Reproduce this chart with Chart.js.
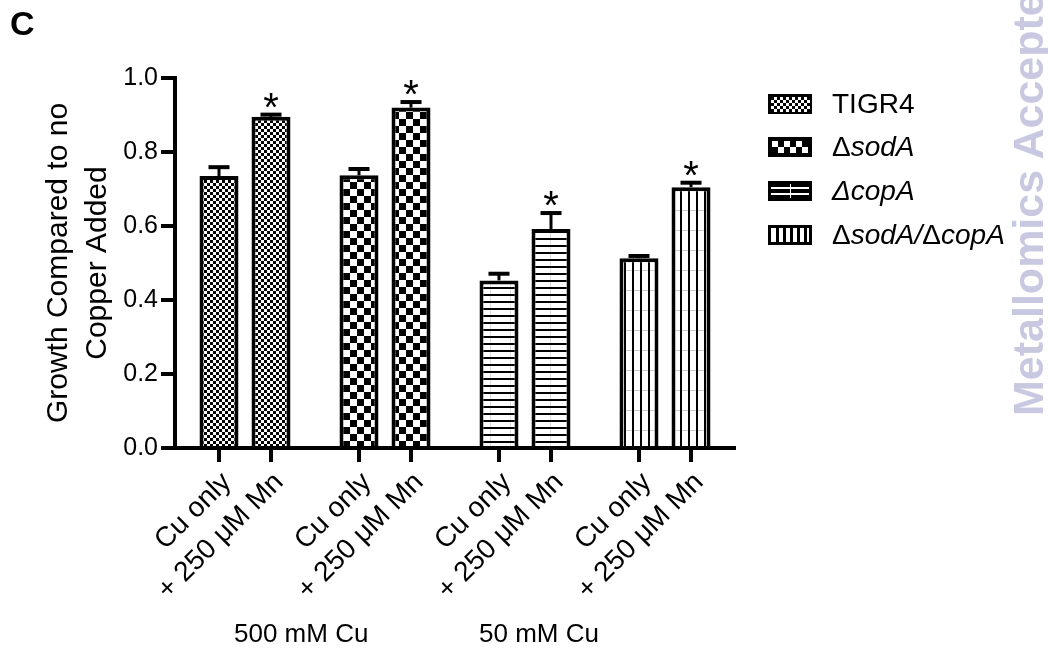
<!DOCTYPE html>
<html>
<head>
<meta charset="utf-8">
<script src="https://cdn.jsdelivr.net/npm/chart.js@4.4.0/dist/chart.umd.min.js"></script>
<style>
  body { margin: 0; background: #fff; }
  #wrap { position: relative; width: 1048px; height: 670px; font-family: Arial, "Liberation Sans", sans-serif; color: #000; }
  #c { position: absolute; left: 0; top: 0; }
  .panel { position: absolute; left: 10px; top: 6px; font-weight: bold; font-size: 34px; line-height: 1; }
  .grp { position: absolute; top: 620px; font-size: 26px; line-height: 1; white-space: nowrap; }
  .leg { position: absolute; left: 768px; width: 280px; height: 30px; }
  .leg canvas { position: absolute; left: 0; }
  .leg span { position: absolute; left: 64px; top: -1px; font-size: 28px; line-height: 1; white-space: nowrap; }
  .mark { position: absolute; left: 1007px; top: 416px; transform-origin: 0 0; transform: rotate(-90deg);
          font-weight: bold; font-size: 43px; line-height: 1; color: #c8c8e1; white-space: nowrap; z-index: 5; }
</style>
</head>
<body>
<div id="wrap">
  <canvas id="c" width="1048" height="670"></canvas>
  <div class="panel">C</div>
  <div class="leg" style="top:91px"><canvas width="44" height="20" style="top:3px"></canvas><span>TIGR4</span></div>
  <div class="leg" style="top:134px"><canvas width="44" height="20" style="top:3px"></canvas><span>Δ<i>sodA</i></span></div>
  <div class="leg" style="top:178px"><canvas width="44" height="20" style="top:3px"></canvas><span><i>ΔcopA</i></span></div>
  <div class="leg" style="top:222px"><canvas width="44" height="20" style="top:3px"></canvas><span>Δ<i>sodA/</i>Δ<i>copA</i></span></div>
  <div class="grp" style="left:234px">500 mM Cu</div>
  <div class="grp" style="left:479px">50 mM Cu</div>
  <div class="mark">Metallomics Accepted Manuscript</div>
</div>
<script>
// strains (one group of two bars each)
const groups = ['TIGR4', 'ΔsodA', 'ΔcopA', 'ΔsodA/ΔcopA'];
const conditions = ['Cu only', '+ 250 μM Mn'];

// growth relative to no copper added, mean and upper error
const cuOnly = [0.735, 0.737, 0.453, 0.513];
const cuOnlyErr = [0.024, 0.017, 0.018, 0.006];
const withMn = [0.895, 0.920, 0.592, 0.705];
const withMnErr = [0.006, 0.015, 0.043, 0.012];
const withMnStar = [true, true, true, true];

const yTicks = { min: 0, max: 1, step: 0.2 };

const ctx = document.getElementById('c').getContext('2d');

// fill patterns for the four strains
function makeTile(kind) {
    const c = document.createElement('canvas');
    const g = c.getContext('2d');
    if (kind === 0) {
        c.width = 6; c.height = 6;
        g.fillStyle = '#fff'; g.fillRect(0, 0, 6, 6);
        g.fillStyle = '#000'; g.fillRect(0, 0, 3, 3); g.fillRect(3, 3, 3, 3);
    } else if (kind === 1) {
        c.width = 14; c.height = 14;
        g.fillStyle = '#fff'; g.fillRect(0, 0, 14, 14);
        g.fillStyle = '#000'; g.fillRect(0, 0, 7, 7); g.fillRect(7, 7, 7, 7);
    } else if (kind === 2) {
        c.width = 20; c.height = 7;
        g.fillStyle = '#fff'; g.fillRect(0, 0, 20, 7);
        g.fillStyle = '#ddd'; g.fillRect(10, 0, 1, 7);
        g.fillStyle = '#000'; g.fillRect(0, 0, 20, 2);
    } else {
        c.width = 8; c.height = 20;
        g.fillStyle = '#fff'; g.fillRect(0, 0, 8, 20);
        g.fillStyle = '#ccc'; g.fillRect(0, 10, 8, 1);
        g.fillStyle = '#000'; g.fillRect(0, 0, 2, 20);
    }
    return c;
}
const patterns = [0, 1, 2, 3].map(k => ctx.createPattern(makeTile(k), 'repeat'));

// legend swatches
document.querySelectorAll('.leg canvas').forEach((cv, k) => {
    const g = cv.getContext('2d');
    g.fillStyle = '#000'; g.fillRect(0, 0, 44, 20);
    g.fillStyle = '#fff';
    if (k === 0) {
        for (let y = 3; y < 17; y += 3)
            for (let x = 3; x < 41; x += 3)
                if (((x + y) / 3) % 2 === 1) g.fillRect(x, y, 3, 3);
    } else if (k === 1) {
        for (let r = 0; r < 2; r++)
            for (let q = 0; q < 6; q++)
                if ((r + q) % 2 === 0) g.fillRect(4 + q * 6, 4 + r * 6, 6, 6);
    } else if (k === 2) {
        g.fillRect(3, 6, 38, 2); g.fillRect(3, 12, 38, 2); g.fillRect(22, 3, 1, 14);
    } else {
        g.fillRect(3, 3, 38, 14);
        g.fillStyle = '#000';
        for (let x = 8; x < 40; x += 7) g.fillRect(x, 3, 3, 14);
    }
});

// error bars, significance stars, bar ticks and rotated bar labels
const extras = {
    id: 'extras',
    afterDatasetsDraw(chart) {
        const c = chart.ctx;
        const ys = chart.scales.y, xs = chart.scales.x;
        const errs = [cuOnlyErr, withMnErr];
        c.save();
        c.strokeStyle = '#000';
        c.fillStyle = '#000';
        chart.data.datasets.forEach((ds, di) => {
            chart.getDatasetMeta(di).data.forEach((bar, i) => {
                const yTop = ys.getPixelForValue(ds.data[i] + errs[di][i]);
                c.lineWidth = 3;
                c.beginPath();
                c.moveTo(bar.x, bar.y);
                c.lineTo(bar.x, yTop);
                c.stroke();
                c.lineWidth = 4;
                c.beginPath();
                c.moveTo(bar.x - 10.5, yTop);
                c.lineTo(bar.x + 10.5, yTop);
                c.stroke();
                if (di === 1 && withMnStar[i]) {
                    c.font = '40px Arial';
                    c.textAlign = 'center';
                    c.textBaseline = 'alphabetic';
                    c.fillText('*', bar.x, yTop + 6);
                }
                // tick under the bar
                c.lineWidth = 4;
                c.beginPath();
                c.moveTo(bar.x, xs.top);
                c.lineTo(bar.x, xs.top + 14);
                c.stroke();
                c.save();
                c.translate(bar.x + 8, xs.top + 30);
                c.rotate(-Math.PI / 4);
                c.font = '28px Arial';
                c.textAlign = 'right';
                c.textBaseline = 'middle';
                c.fillText(conditions[di], 0, 0);
                c.restore();
            });
        });
        c.restore();
    }
};

new Chart(ctx, {
    type: 'bar',
    data: {
        labels: groups,
        datasets: [{
            label: conditions[0],
            data: cuOnly,
            backgroundColor: patterns,
            borderColor: '#000',
            borderWidth: 4,
            categoryPercentage: 0.743,
            barPercentage: 0.75
        }, {
            label: conditions[1],
            data: withMn,
            backgroundColor: patterns,
            borderColor: '#000',
            borderWidth: 4,
            categoryPercentage: 0.743,
            barPercentage: 0.75
        }]
    },
    options: {
        responsive: false,
        animation: false,
        layout: { padding: { top: 78, right: 313, bottom: 0, left: 0 } },
        plugins: {
            legend: { display: false },
            tooltip: { enabled: false }
        },
        scales: {
            x: {
                offset: true,
                grid: { display: false },
                border: { display: true, width: 4, color: '#000' },
                ticks: { display: false },
                afterFit: s => { s.height = 222; }
            },
            y: {
                min: yTicks.min,
                max: yTicks.max,
                ticks: {
                    stepSize: yTicks.step,
                    color: '#000',
                    padding: 3,
                    font: { family: 'Arial', size: 25 },
                    callback: v => v.toFixed(1)
                },
                grid: { drawOnChartArea: false, drawTicks: true, tickLength: 14, lineWidth: 4, color: '#000' },
                border: { display: true, width: 4, color: '#000' },
                title: {
                    display: true,
                    text: ['Growth Compared to no', 'Copper Added'],
                    color: '#000',
                    font: { family: 'Arial', size: 30, lineHeight: 1.3 },
                    padding: { top: 39, bottom: 0 }
                },
                afterFit: s => { s.width = 175; }
            }
        }
    },
    plugins: [extras]
});
</script>
</body>
</html>
